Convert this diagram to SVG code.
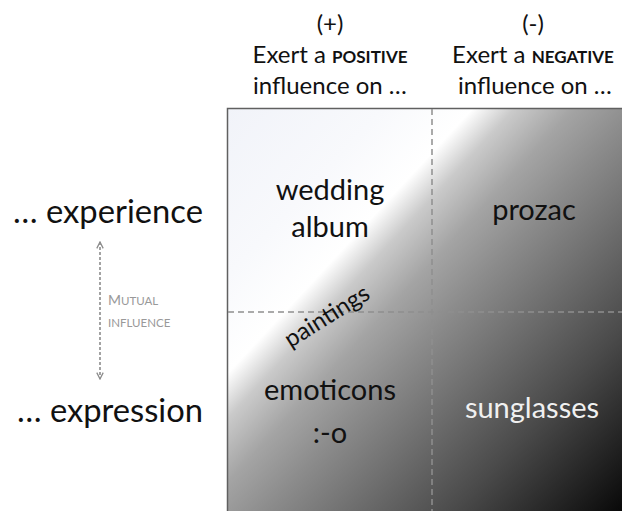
<svg xmlns="http://www.w3.org/2000/svg" width="622" height="511" viewBox="0 0 622 511">
<defs>
<linearGradient id="bg" gradientUnits="userSpaceOnUse" x1="217.5" y1="118" x2="643" y2="512">
<stop offset="0" stop-color="#f1f3f9"/>
<stop offset="0.2" stop-color="#f8f9fc"/>
<stop offset="0.312" stop-color="#ffffff"/>
<stop offset="0.365" stop-color="#cacaca"/>
<stop offset="0.44" stop-color="#a4a4a4"/>
<stop offset="0.52" stop-color="#8c8c8c"/>
<stop offset="0.76" stop-color="#4a4a4a"/>
<stop offset="1" stop-color="#000000"/>
</linearGradient>
<marker id="ah" viewBox="0 0 10 10" refX="9" refY="5" markerWidth="8" markerHeight="8" orient="auto-start-reverse" markerUnits="userSpaceOnUse">
<path d="M1,1 L9,5 L1,9" fill="none" stroke="#8c8c8c" stroke-width="1.6"/>
</marker>
</defs>
<style>
text{font-family:Lato,"Open Sans","Liberation Sans",sans-serif;fill:#111}
.hd{font-size:24px;text-anchor:middle}
.sc{font-size:17px;font-weight:bold}
.cell{font-size:29px;text-anchor:middle}
.side{font-size:33px;text-anchor:end}
.mu{font-size:14px;fill:#999}
.mus{font-size:11.5px;fill:#999}
.grid{stroke:#8e8e8e;stroke-width:1.5;stroke-dasharray:6,4;fill:none}
</style>
<rect width="622" height="511" fill="#ffffff"/>
<g id="matrix">
<rect x="227.5" y="108.5" width="410" height="410" fill="url(#bg)" stroke="#606060" stroke-width="1.5"/>
</g>
<g id="connectors">
<line class="grid" x1="228" y1="312" x2="622" y2="312"/>
<line class="grid" x1="432" y1="109" x2="432" y2="511"/>
<line x1="100" y1="242" x2="100" y2="379" stroke="#8c8c8c" stroke-width="1.6" stroke-dasharray="3,2" marker-start="url(#ah)" marker-end="url(#ah)"/>
</g>
<g id="header-positive">
<text class="hd" x="330" y="32">(+)</text>
<text class="hd" x="330" y="63">Exert a <tspan class="sc">POSITIVE</tspan></text>
<text class="hd" x="330" y="94">influence on …</text>
</g>
<g id="header-negative">
<text class="hd" x="533" y="32">(-)</text>
<text class="hd" x="533" y="63">Exert a <tspan class="sc">NEGATIVE</tspan></text>
<text class="hd" x="535" y="94">influence on …</text>
</g>
<g id="row-experience">
<text class="side" x="203" y="223" textLength="190" lengthAdjust="spacingAndGlyphs">… experience</text>
</g>
<g id="row-expression">
<text class="side" x="203" y="422" textLength="186" lengthAdjust="spacingAndGlyphs">… expression</text>
</g>
<g id="mutual-influence">
<text x="108" y="305"><tspan class="mu">M</tspan><tspan class="mus">UTUAL</tspan></text>
<text class="mus" x="108" y="327">INFLUENCE</text>
</g>
<g id="wedding-album">
<text class="cell" x="330" y="200">wedding</text>
<text class="cell" x="330" y="237">album</text>
</g>
<g id="prozac">
<text class="cell" x="534" y="220">prozac</text>
</g>
<g id="paintings">
<text class="cell" style="font-size:24px" transform="translate(331,323) rotate(-32)" x="0" y="0">paintings</text>
</g>
<g id="emoticons">
<text class="cell" x="330" y="400">emoticons</text>
<text class="cell" x="330" y="443">:-o</text>
</g>
<g id="sunglasses">
<text class="cell" x="532" y="418" style="fill:#f0f0f0">sunglasses</text>
</g>
</svg>
